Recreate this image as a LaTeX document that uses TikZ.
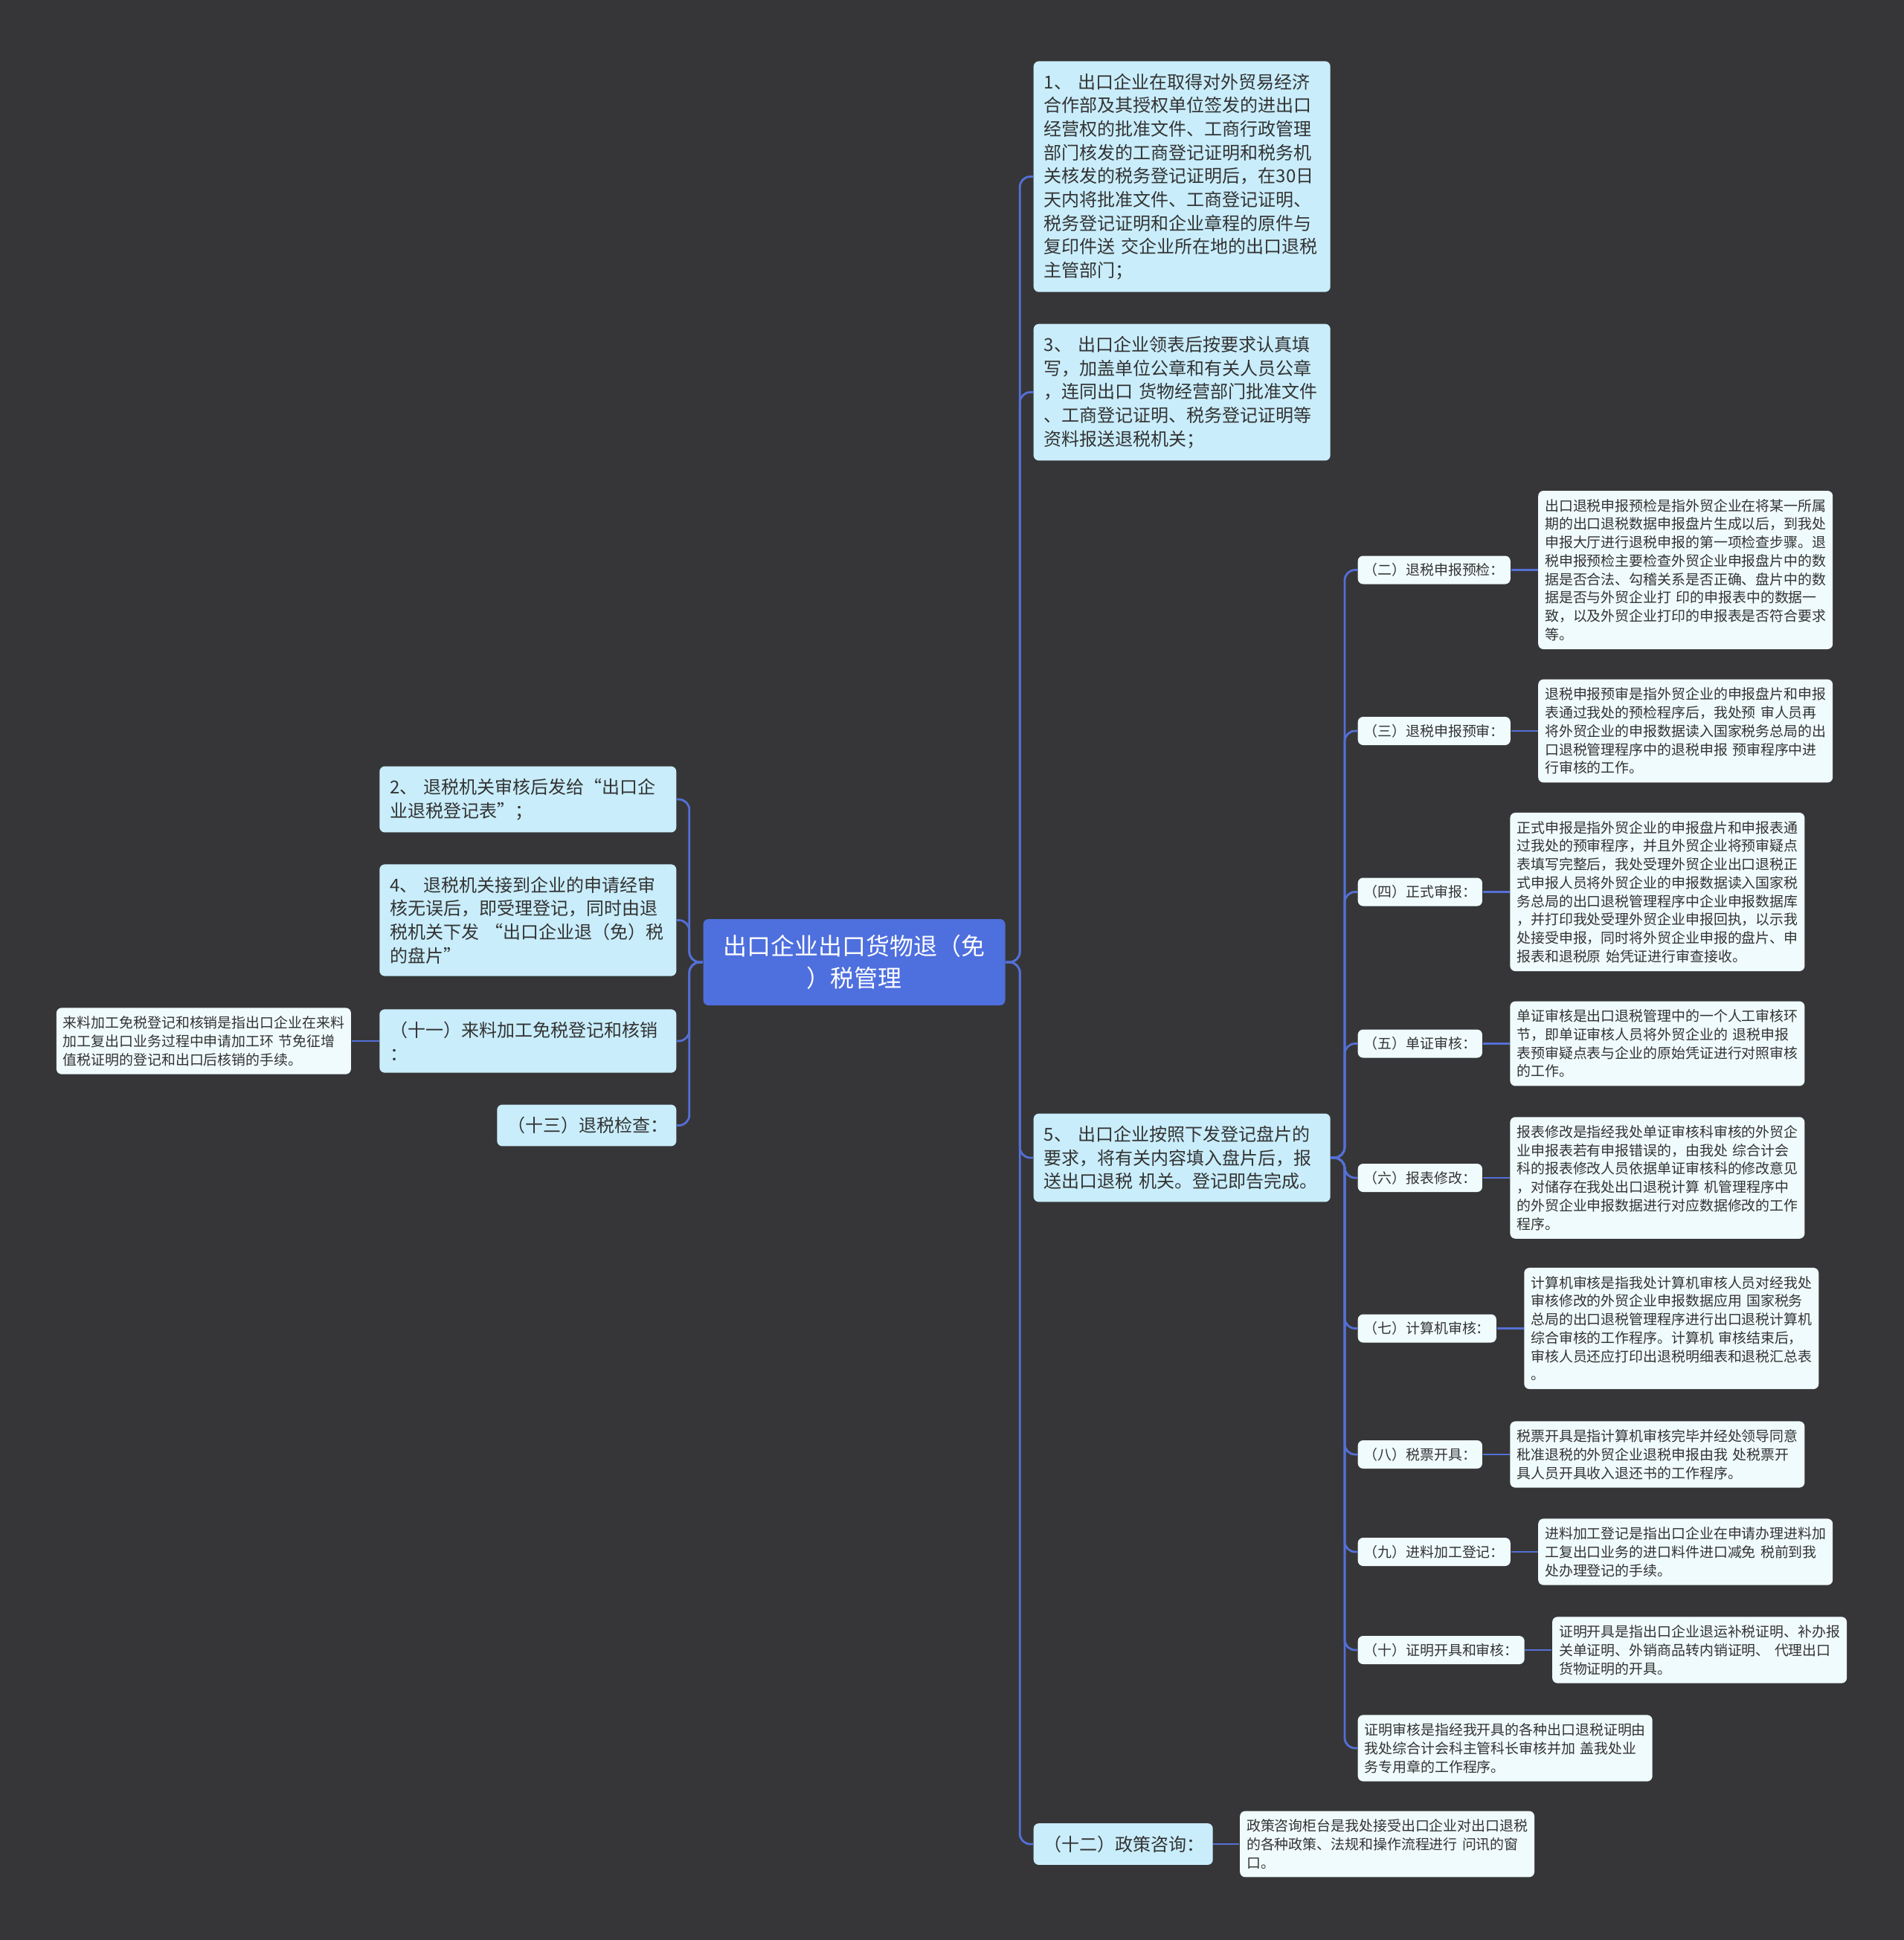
\documentclass[tikz,border=0pt]{standalone}
\usepackage{fontspec}
\setmainfont{Noto Sans CJK SC}
\usepackage{tikz}
\usetikzlibrary{positioning}

\definecolor{bgdark}{RGB}{54,54,56}
\definecolor{rootblue}{RGB}{78,111,222}
\definecolor{linkblue}{RGB}{84,112,214}
\definecolor{topicfill}{RGB}{201,237,251}
\definecolor{notefill}{RGB}{240,251,253}
\definecolor{inktext}{RGB}{51,51,51}

\begin{document}
\begin{tikzpicture}[
  root/.style={fill=rootblue,rounded corners=2pt,text=white,align=center,text width=3.8cm,minimum height=1.16cm,inner xsep=0.13cm,font=\fontsize{9.1}{12.3}\selectfont},
  topic/.style={fill=topicfill,rounded corners=2pt,text=inktext,align=left,text width=3.71cm,inner xsep=0.14cm,inner ysep=0.165cm,font=\fontsize{6.83}{9}\selectfont},
  shorttopic/.style={topic,text width=2.13cm},
  sub/.style={fill=notefill,rounded corners=2pt,text=inktext,inner xsep=0.08cm,inner ysep=0.05cm,minimum height=0.38cm,font=\fontsize{5.38}{7.05}\selectfont},
  note/.style={fill=notefill,rounded corners=2pt,text=inktext,align=left,text width=3.78cm,inner xsep=0.09cm,inner ysep=0.11cm,font=\fontsize{5.38}{7.05}\selectfont},
  link/.style={draw=linkblue,line width=0.8pt,rounded corners=4pt},
]
\fill[bgdark] (0,0) rectangle (25.6,-26.09);
\useasboundingbox (0,0) rectangle (25.6,-26.09);

\node[root] (root) at (11.485,-12.94) {出口企业出口货物退（免\\）税管理};

% right side
\node[topic,anchor=west] (t1) at (13.89,-2.375) {1、 出口企业在取得对外贸易经济\\合作部及其授权单位签发的进出口\\经营权的批准文件、工商行政管理\\部门核发的工商登记证明和税务机\\关核发的税务登记证明后，在30日\\天内将批准文件、工商登记证明、\\税务登记证明和企业章程的原件与\\复印件送 交企业所在地的出口退税\\主管部门；};
\node[topic,anchor=west] (t3) at (13.89,-5.275) {3、 出口企业领表后按要求认真填\\写，加盖单位公章和有关人员公章\\，连同出口 货物经营部门批准文件\\、工商登记证明、税务登记证明等\\资料报送退税机关；};
\node[topic,anchor=west] (t5) at (13.89,-15.57) {5、 出口企业按照下发登记盘片的\\要求，将有关内容填入盘片后，报\\送出口退税 机关。登记即告完成。};
\node[shorttopic,anchor=west] (t12) at (13.89,-24.80) {（十二）政策咨询：};
\node[note,right=0.35cm of t12] (q12) {政策咨询柜台是我处接受出口企业对出口退税\\的各种政策、法规和操作流程进行 问讯的窗\\口。};

% left side
\node[topic,anchor=east] (t2) at (9.10,-10.75) {2、 退税机关审核后发给“出口企\\业退税登记表”；};
\node[topic,anchor=east] (t4) at (9.10,-12.375) {4、 退税机关接到企业的申请经审\\核无误后，即受理登记，同时由退\\税机关下发 “出口企业退（免）税\\的盘片”};
\node[topic,anchor=east] (t11) at (9.10,-14.00) {（十一）来料加工免税登记和核销\\：};
\node[shorttopic,anchor=east] (t13) at (9.10,-15.135) {（十三）退税检查：};
\node[note,left=0.37cm of t11] (q11) {来料加工免税登记和核销是指出口企业在来料\\加工复出口业务过程中申请加工环 节免征增\\值税证明的登记和出口后核销的手续。};

% steps under 5
\node[sub,anchor=west] (s2) at (18.25,-7.665) {（二）退税申报预检：};
\node[sub,anchor=west] (s3) at (18.25,-9.83) {（三）退税申报预审：};
\node[sub,anchor=west] (s4) at (18.25,-11.995) {（四）正式审报：};
\node[sub,anchor=west] (s5) at (18.25,-14.035) {（五）单证审核：};
\node[sub,anchor=west] (s6) at (18.25,-15.84) {（六）报表修改：};
\node[sub,anchor=west] (s7) at (18.25,-17.865) {（七）计算机审核：};
\node[sub,anchor=west] (s8) at (18.25,-19.56) {（八）税票开具：};
\node[sub,anchor=west] (s9) at (18.25,-20.87) {（九）进料加工登记：};
\node[sub,anchor=west] (s10) at (18.25,-22.19) {（十）证明开具和审核：};
\node[note,anchor=west] (q10b) at (18.25,-23.51) {证明审核是指经我开具的各种出口退税证明由\\我处综合计会科主管科长审核并加 盖我处业\\务专用章的工作程序。};

\node[note,right=0.36cm of s2] (q2) {出口退税申报预检是指外贸企业在将某一所属\\期的出口退税数据申报盘片生成以后，到我处\\申报大厅进行退税申报的第一项检查步骤。退\\税申报预检主要检查外贸企业申报盘片中的数\\据是否合法、勾稽关系是否正确、盘片中的数\\据是否与外贸企业打 印的申报表中的数据一\\致，以及外贸企业打印的申报表是否符合要求\\等。};
\node[note,right=0.36cm of s3] (q3) {退税申报预审是指外贸企业的申报盘片和申报\\表通过我处的预检程序后，我处预 审人员再\\将外贸企业的申报数据读入国家税务总局的出\\口退税管理程序中的退税申报 预审程序中进\\行审核的工作。};
\node[note,right=0.36cm of s4] (q4) {正式申报是指外贸企业的申报盘片和申报表通\\过我处的预审程序，并且外贸企业将预审疑点\\表填写完整后，我处受理外贸企业出口退税正\\式申报人员将外贸企业的申报数据读入国家税\\务总局的出口退税管理程序中企业申报数据库\\，并打印我处受理外贸企业申报回执，以示我\\处接受申报，同时将外贸企业申报的盘片、申\\报表和退税原 始凭证进行审查接收。};
\node[note,right=0.36cm of s5] (q5) {单证审核是出口退税管理中的一个人工审核环\\节，即单证审核人员将外贸企业的 退税申报\\表预审疑点表与企业的原始凭证进行对照审核\\的工作。};
\node[note,right=0.36cm of s6] (q6) {报表修改是指经我处单证审核科审核的外贸企\\业申报表若有申报错误的，由我处 综合计会\\科的报表修改人员依据单证审核科的修改意见\\，对储存在我处出口退税计算 机管理程序中\\的外贸企业申报数据进行对应数据修改的工作\\程序。};
\node[note,right=0.36cm of s7] (q7) {计算机审核是指我处计算机审核人员对经我处\\审核修改的外贸企业申报数据应用 国家税务\\总局的出口退税管理程序进行出口退税计算机\\综合审核的工作程序。计算机 审核结束后，\\审核人员还应打印出退税明细表和退税汇总表\\。};
\node[note,right=0.36cm of s8] (q8) {税票开具是指计算机审核完毕并经处领导同意\\秕准退税的外贸企业退税申报由我 处税票开\\具人员开具收入退还书的工作程序。};
\node[note,right=0.36cm of s9] (q9) {进料加工登记是指出口企业在申请办理进料加\\工复出口业务的进口料件进口减免 税前到我\\处办理登记的手续。};
\node[note,right=0.36cm of s10] (q10) {证明开具是指出口企业退运补税证明、补办报\\关单证明、外销商品转内销证明、 代理出口\\货物证明的开具。};

% connectors
\foreach \n in {t1,t3,t5,t12}
  \draw[link] (root.east) -- ++(0.19,0) |- (\n.west);
\foreach \n in {t2,t4,t11,t13}
  \draw[link] (root.west) -- ++(-0.18,0) |- (\n.east);
\foreach \n in {s2,s3,s4,s5,s6,s7,s8,s9,s10,q10b}
  \draw[link] (t5.east) -- ++(0.185,0) |- (\n.west);
\foreach \n/\m in {s2/q2,s3/q3,s4/q4,s5/q5,s6/q6,s7/q7,s8/q8,s9/q9,s10/q10,t12/q12}
  \draw[link] (\n.east) -- (\m.west);
\draw[link] (t11.west) -- (q11.east);
\end{tikzpicture}
\end{document}
